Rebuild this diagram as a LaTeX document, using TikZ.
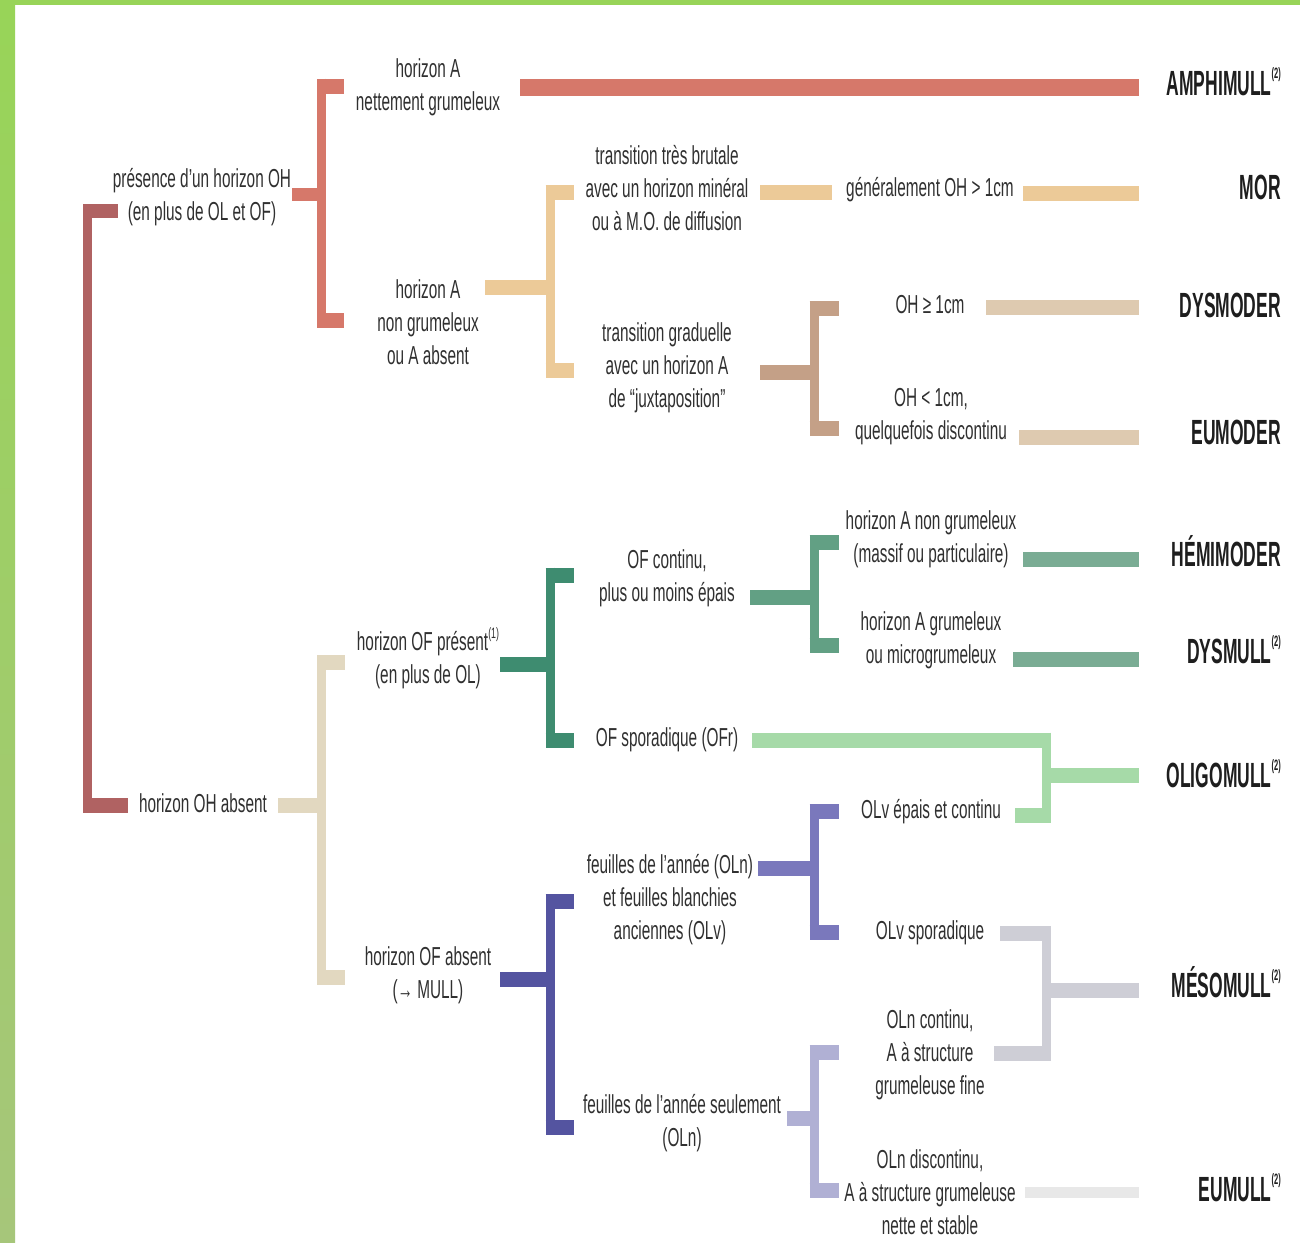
\documentclass[tikz,border=0pt]{standalone}
\usepackage{fontspec}
\setmainfont{Liberation Sans}[FakeStretch=0.59]
\newfontfamily\termfont{Liberation Sans}[FakeStretch=0.5]

% palette of the branches
\definecolor{rootc}{RGB}{176,98,98}
\definecolor{redc}{RGB}{214,120,106}
\definecolor{tanc}{RGB}{236,202,152}
\definecolor{brownc}{RGB}{196,160,135}
\definecolor{beigec}{RGB}{222,202,176}
\definecolor{sandc}{RGB}{226,216,192}
\definecolor{tealc}{RGB}{62,140,112}
\definecolor{greenc}{RGB}{98,160,132}
\definecolor{sagec}{RGB}{122,172,148}
\definecolor{mintc}{RGB}{166,218,168}
\definecolor{navyc}{RGB}{84,84,160}
\definecolor{purplec}{RGB}{122,120,188}
\definecolor{lavc}{RGB}{176,176,212}
\definecolor{grayc}{RGB}{206,206,214}
\definecolor{faintc}{RGB}{232,232,232}
\definecolor{inkc}{RGB}{48,48,48}
\definecolor{termc}{RGB}{30,30,30}
\definecolor{frametop}{RGB}{152,212,88}
\definecolor{framebot}{RGB}{166,198,122}

% fork: colour, x of the upright, y of upper branch, y of lower branch,
% x end of upper branch, x end of lower branch
\newcommand\fork[6]{%
  \draw[vbar,#1] (#2,#3-7.5) -- (#2,#4+7.5);
  \draw[hbar,#1] (#2-4.5,#3) -- (#5,#3);
  \draw[hbar,#1] (#2-4.5,#4) -- (#6,#4);}
\newcommand\supnote[1]{\raisebox{0.9ex}{\fontsize{15}{15}\selectfont(#1)}}

\begin{document}
\begin{tikzpicture}[x=1pt,y=-1pt,
  lbl/.style={text=inkc,align=center,inner sep=0pt,font=\fontsize{26}{33}\selectfont},
  term/.style={text=termc,anchor=east,inner sep=0pt,font=\termfont\bfseries\fontsize{35}{35}\selectfont},
  hbar/.style={line width=15pt,line cap=butt},
  vbar/.style={line width=9pt,line cap=butt}]

% page and green frame
\useasboundingbox (0,0) rectangle (1300,1242);
\fill[white] (0,0) rectangle (1300,1242);
\shade[top color=frametop,bottom color=framebot] (0,0) rectangle (15,1242);
\fill[frametop] (0,0) rectangle (1300,5);

% ---------- labels ----------
\node[lbl] (root1) at (202,197) {présence d'un horizon OH\\(en plus de OL et OF)};
\node[lbl] (root2) at (203,803) {horizon OH absent};

\node[lbl] (a1) at (428,87) {horizon A\\nettement grumeleux};
\node[lbl] (a2) at (428,322) {horizon A\\non grumeleux\\ou A absent};
\node[lbl] (t1) at (667,188) {transition très brutale\\avec un horizon minéral\\ou à M.O. de diffusion};
\node[lbl] (t2) at (667,368) {transition graduelle\\avec un horizon A\\de “juxtaposition”};
\node[lbl] (g1) at (930,190) {généralement OH > 1cm};
\node[lbl] (d1) at (930,305) {OH ≥ 1cm};
\node[lbl] (d2) at (931,417) {OH < 1cm,\\quelquefois discontinu};

\node[lbl] (b1) at (428,658) {horizon OF présent\supnote{1}\\(en plus de OL)};
\node[lbl] (b2) at (428,975) {horizon OF absent\\(→ MULL)};
\node[lbl] (c1) at (667,578) {OF continu,\\plus ou moins épais};
\node[lbl] (c2) at (667,740) {OF sporadique (OFr)};
\node[lbl] (h1) at (931,539) {horizon A non grumeleux\\(massif ou particulaire)};
\node[lbl] (h2) at (931,640) {horizon A grumeleux\\ou microgrumeleux};

\node[lbl] (f1) at (670,900) {feuilles de l'année (OLn)\\et feuilles blanchies\\anciennes (OLv)};
\node[lbl] (f2) at (682,1123) {feuilles de l'année seulement\\(OLn)};
\node[lbl] (v1) at (931,812) {OLv épais et continu};
\node[lbl] (v2) at (930,933) {OLv sporadique};
\node[lbl] (n1) at (930,1055) {OLn continu,\\A à structure\\grumeleuse fine};
\node[lbl] (n2) at (930,1192) {OLn discontinu,\\A à structure grumeleuse\\nette et stable};

% ---------- humus forms ----------
\node[term] (amphi) at (1281,82) {AMPHIMULL\supnote{2}};
\node[term] (mor) at (1281,187) {MOR};
\node[term] (dysmo) at (1281,305) {DYSMODER};
\node[term] (eumo) at (1281,432) {EUMODER};
\node[term] (hemi) at (1281,551) {HÉMIMODER};
\node[term] (dysmu) at (1281,650) {DYSMULL\supnote{2}};
\node[term] (oligo) at (1281,774) {OLIGOMULL\supnote{2}};
\node[term] (meso) at (1281,982) {MÉSOMULL\supnote{2}};
\node[term] (eumu) at (1281,1188) {EUMULL\supnote{2}};

% ---------- branches ----------
% root: OH present / OH absent
\draw[vbar,rootc] (87.5,204) -- (87.5,812);
\draw[line width=14pt,rootc] (83,211) -- (118,211);
\draw[line width=15pt,rootc] (83,805) -- (128,805);

% OH present
\draw[line width=13pt,redc] (292,194) -- (321.5,194);
\fork{redc}{321.5}{86}{320}{344}{344}
\draw[line width=17pt,redc] (520,87.5) -- (1139,87.5);

\draw[hbar,tanc] (485,287) -- (550,287);
\fork{tanc}{550}{192.5}{370.5}{574}{574}
\draw[hbar,tanc] (760,192) -- (832,192);
\draw[hbar,tanc] (1023,193) -- (1139,193);

\draw[hbar,brownc] (760,372) -- (814,372);
\fork{brownc}{814}{308.5}{428.5}{839}{839}
\draw[hbar,beigec] (986,307.5) -- (1139,307.5);
\draw[hbar,beigec] (1019,437.5) -- (1139,437.5);

% OH absent
\draw[hbar,sandc] (278,805) -- (321.5,805);
\fork{sandc}{321.5}{662.5}{977.5}{345}{345}

\draw[hbar,tealc] (500,664.5) -- (550,664.5);
\fork{tealc}{550}{575}{740}{574}{574}

\draw[hbar,greenc] (750,597) -- (814,597);
\fork{greenc}{814}{542.5}{645.5}{839}{839}
\draw[hbar,sagec] (1023,559.5) -- (1139,559.5);
\draw[hbar,sagec] (1013,659.5) -- (1139,659.5);

% OLIGOMULL junction
\draw[hbar,mintc] (752,740) -- (1051,740);
\draw[hbar,mintc] (1015,815) -- (1051,815);
\draw[vbar,mintc] (1046.5,732.5) -- (1046.5,822.5);
\draw[hbar,mintc] (1046.5,775.5) -- (1139,775.5);

\draw[hbar,navyc] (500,979.5) -- (550,979.5);
\fork{navyc}{550}{901.5}{1127.5}{574}{574}

\draw[hbar,purplec] (758,868.5) -- (814,868.5);
\fork{purplec}{814}{811.5}{932.5}{839}{839}

\draw[hbar,lavc] (787,1118.5) -- (814,1118.5);
\fork{lavc}{814}{1052.5}{1190.5}{839}{839}

% MESOMULL junction
\draw[hbar,grayc] (1000,933.5) -- (1051,933.5);
\draw[hbar,grayc] (994,1053.5) -- (1051,1053.5);
\draw[vbar,grayc] (1046.5,926) -- (1046.5,1061);
\draw[hbar,grayc] (1046.5,990) -- (1139,990);

\draw[line width=11pt,faintc] (1025,1192) -- (1139,1192);

\end{tikzpicture}
\end{document}
